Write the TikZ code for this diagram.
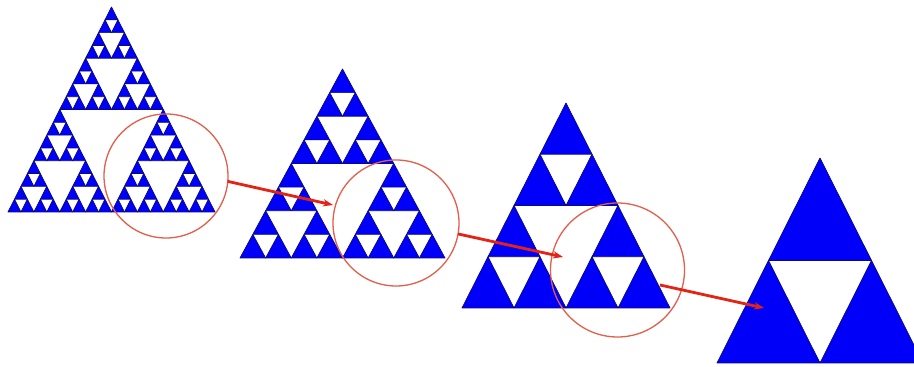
\documentclass[tikz,border=0pt]{standalone}
\usetikzlibrary{arrows.meta}
\definecolor{triblue}{RGB}{0,0,250}
\definecolor{triedge}{RGB}{10,10,120}
\definecolor{ringred}{RGB}{225,95,75}
\definecolor{arrowred}{RGB}{228,35,20}
\tikzset{
  tri/.style={fill=triblue, draw=triedge, line width=0.35pt, line join=round},
  ring/.style={circle, draw=ringred, line width=0.65pt, inner sep=0pt, outer sep=0pt, fill=none},
  zoomarrow/.style={draw=arrowred, line width=1.4pt, -{Stealth[length=5pt,width=3.6pt]}}
}
\newcommand\sierp[4]{%
  \ifnum#1=0
    \fill[tri] (#2,#3) -- ++(#4,0) -- ++(-#4/2,#4) -- cycle;
  \else
    \begingroup
      \pgfmathtruncatemacro\sdepth{#1-1}%
      \pgfmathsetmacro\shalf{#4/2}%
      \pgfmathsetmacro\sxa{#2+\shalf}%
      \pgfmathsetmacro\sxb{#2+\shalf/2}%
      \pgfmathsetmacro\syb{#3+\shalf}%
      \edef\snext{\noexpand\sierp{\sdepth}{#2}{#3}{\shalf}%
        \noexpand\sierp{\sdepth}{\sxa}{#3}{\shalf}%
        \noexpand\sierp{\sdepth}{\sxb}{\syb}{\shalf}}%
      \snext
    \endgroup
  \fi}
\begin{document}
\begin{tikzpicture}[x=0.5pt,y=0.5pt]
  \useasboundingbox (0,0) rectangle (914,367);
  \fill[white] (0,0) rectangle (914,367);
  \clip (0,0) rectangle (914,367);
  % Sierpinski triangles
  \begin{scope}[shift={(8,155)}, xscale=207, yscale=205]
    \sierp{4}{0}{0}{1}
  \end{scope}
  \begin{scope}[shift={(240,109)}, xscale=205, yscale=189]
    \sierp{3}{0}{0}{1}
  \end{scope}
  \begin{scope}[shift={(462,59)}, xscale=208, yscale=205]
    \sierp{2}{0}{0}{1}
  \end{scope}
  \begin{scope}[shift={(717,4)}, xscale=206, yscale=205]
    \sierp{1}{0}{0}{1}
  \end{scope}
  % zoom circles
  \node[ring, minimum size=62pt] (c1) at (166,191) {};
  \node[ring, minimum size=63pt] (c2) at (396,144) {};
  \node[ring, minimum size=67pt] (c3) at (617.5,97) {};
  % arrow end points
  \coordinate (a1e) at (333,162);
  \coordinate (a2e) at (563,110);
  \coordinate (a3s) at (660,82);
  \coordinate (a3e) at (764,59);
  % arrows
  \draw[zoomarrow] (c1.-5) -- (a1e);
  \draw[zoomarrow] (c2.-10) -- (a2e);
  \draw[zoomarrow] (a3s) -- (a3e);
\end{tikzpicture}
\end{document}
